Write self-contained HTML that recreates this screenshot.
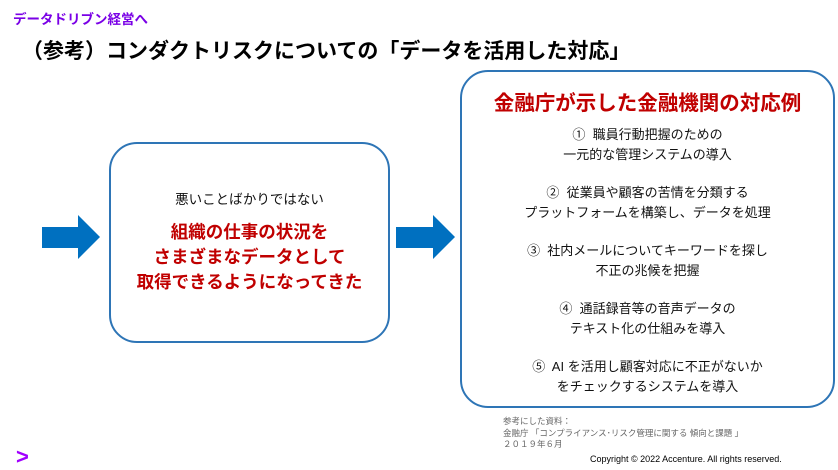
<!DOCTYPE html>
<html><head><meta charset="utf-8"><style>
body{margin:0;width:838px;height:469px;background:#fff;position:relative;overflow:hidden;font-family:"Liberation Sans","Noto Sans CJK JP",sans-serif}
.a{position:absolute}
.box{position:absolute;border:2.5px solid #2e75b6;border-radius:28px;box-sizing:border-box;background:#fff}
.c{text-align:center;width:100%;left:0}
</style></head><body>
<div class="a" style="left:13px;top:8px;font-size:13.5px;font-weight:bold;color:#7a00e6">データドリブン経営へ</div>
<div class="a" style="left:22px;top:35px;font-size:21px;font-weight:bold;color:#000">（参考）コンダクトリスクについての「データを活用した対応」</div>

<svg class="a" style="left:0;top:0" width="838" height="469">
<polygon points="42,227 78,227 78,215 100,237 78,259 78,248 42,248" fill="#0070c0"/>
<polygon points="396,227 433,227 433,215 455,237 433,259 433,248 396,248" fill="#0070c0"/>
</svg>

<div class="box" style="left:109px;top:142px;width:281px;height:201px"></div>
<div class="a c" style="left:109px;width:281px;top:188px;font-size:13.5px;color:#111">悪いことばかりではない</div>
<div class="a c" style="left:109px;width:281px;top:220px;font-size:17.5px;line-height:25px;font-weight:bold;color:#c00000">組織の仕事の状況を<br>さまざまなデータとして<br>取得できるようになってきた</div>

<div class="box" style="left:460px;top:70px;width:375px;height:338px"></div>
<div class="a c" style="left:460px;width:375px;top:86px;font-size:20.5px;font-weight:bold;color:#c00000">金融庁が示した金融機関の対応例</div>
<div class="a c" style="left:460px;width:375px;top:125px;font-size:13px;line-height:20px;color:#111">
<div>①&nbsp; 職員行動把握のための<br>一元的な管理システムの導入</div>
<div style="margin-top:18px">②&nbsp; 従業員や顧客の苦情を分類する<br>プラットフォームを構築し、データを処理</div>
<div style="margin-top:18px">③&nbsp; 社内メールについてキーワードを探し<br>不正の兆候を把握</div>
<div style="margin-top:18px">④&nbsp; 通話録音等の音声データの<br>テキスト化の仕組みを導入</div>
<div style="margin-top:18px">⑤&nbsp; AI を活用し顧客対応に不正がないか<br>をチェックするシステムを導入</div>
</div>

<div class="a" style="left:503px;top:416px;font-size:8.5px;line-height:11.5px;color:#666">参考にした資料：<br>金融庁 「コンプライアンス･リスク管理に関する 傾向と課題 」<br>２０１９年６月</div>
<div class="a" style="left:590px;top:454px;font-size:9px;color:#000">Copyright © 2022 Accenture. All rights reserved.</div>
<div class="a" style="left:16px;top:444px;font-size:22px;font-weight:bold;color:#a100ff">&gt;</div>
</body></html>
